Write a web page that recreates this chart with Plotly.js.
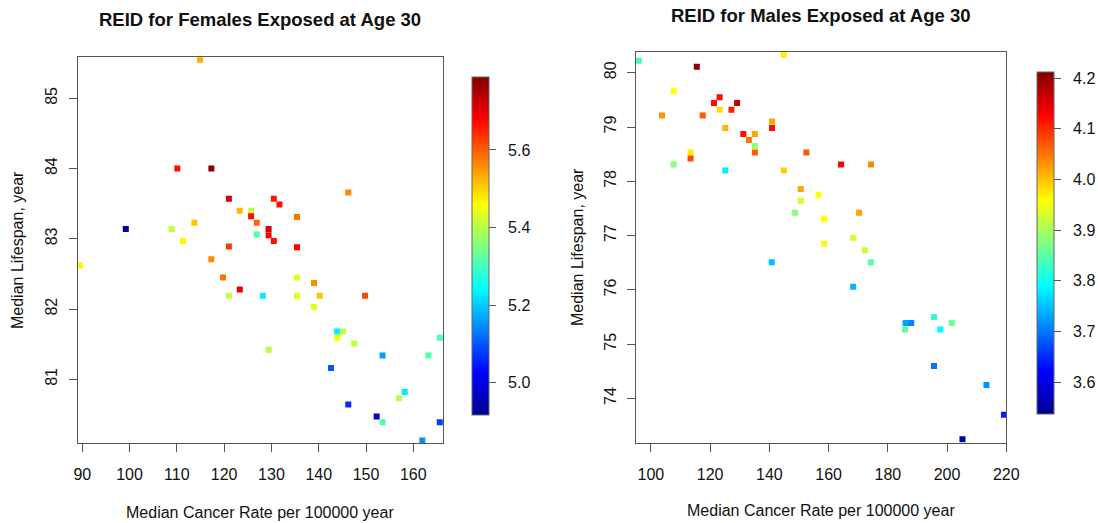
<!DOCTYPE html>
<html>
<head>
<meta charset="utf-8">
<script src="https://cdn.plot.ly/plotly-3.0.1.min.js"></script>
<style>html,body{margin:0;padding:0;background:#fff;}#chart{width:1098px;height:523px;}</style>
</head>
<body>
<div id="chart"></div>
<script>
// Females exposed at age 30
var femaleCancerRate = [114.9,110.1,117.3,121.0,130.5,131.7,123.3,125.7,125.7,126.9,113.7,99.2,108.9,126.9,129.4,129.4,130.5,111.3,121.0,89.5,117.3,119.75,123.3,121.0,128.2,129.4,146.25,135.4,135.4,135.4,139.0,135.4,140.2,149.8,139.0,143.9,145.1,143.9,147.5,165.6,153.5,163.2,142.6,158.2,157.0,146.25,152.25,153.5,165.6,161.9];
var femaleLifespan = [85.55,84.00,84.00,83.57,83.57,83.49,83.40,83.40,83.32,83.23,83.23,83.14,83.14,83.06,83.14,83.05,82.97,82.97,82.89,82.62,82.71,82.45,82.28,82.19,82.19,81.42,83.66,83.31,82.88,82.45,82.37,82.19,82.19,82.19,82.03,81.68,81.68,81.59,81.51,81.59,81.34,81.34,81.16,80.82,80.73,80.64,80.47,80.39,80.39,80.13];
var femaleREID = [5.53,5.67,5.78,5.71,5.66,5.67,5.52,5.41,5.67,5.59,5.51,4.93,5.41,5.31,5.71,5.68,5.67,5.47,5.63,5.47,5.56,5.58,5.70,5.41,5.23,5.40,5.56,5.58,5.68,5.43,5.56,5.44,5.51,5.62,5.44,5.23,5.40,5.45,5.41,5.31,5.16,5.31,5.10,5.23,5.40,5.06,4.99,5.31,5.08,5.15];

// Males exposed at age 30
var maleCancerRate = [95.9,115.5,144.9,107.7,123.2,121.3,129.1,123.2,127.2,103.75,117.5,125.1,140.9,140.9,131.2,135.1,133.1,135.1,135.1,113.4,113.4,152.5,107.7,164.2,174.3,125.1,144.9,150.6,156.6,150.6,148.7,170.3,158.5,158.5,168.3,172.2,174.3,140.8,168.3,186.0,187.9,195.6,201.6,185.8,197.7,195.6,213.3,219.2,205.2];
var maleLifespan = [80.22,80.11,80.33,79.66,79.55,79.44,79.44,79.32,79.32,79.21,79.21,78.98,79.10,78.98,78.87,78.87,78.76,78.65,78.53,78.53,78.42,78.53,78.31,78.31,78.31,78.20,78.20,77.86,77.75,77.64,77.42,77.42,77.30,76.85,76.96,76.73,76.51,76.51,76.06,75.39,75.39,75.50,75.39,75.27,75.27,74.60,74.25,73.70,73.25];
var maleREID = [3.83,4.21,3.97,3.96,4.12,4.12,4.17,3.98,4.11,4.03,4.07,4.01,4.02,4.12,4.12,4.02,4.05,3.89,4.07,3.97,4.08,4.07,3.88,4.13,4.04,3.78,3.99,4.02,3.96,3.93,3.88,4.02,3.96,3.95,3.93,3.92,3.85,3.75,3.74,3.73,3.71,3.82,3.86,3.85,3.79,3.70,3.72,3.64,3.55];

var femaleXTicks = [90,100,110,120,130,140,150,160];
var femaleYTicks = [81,82,83,84,85];
var femaleCTicks = [5.0,5.2,5.4,5.6];
var maleXTicks = [100,120,140,160,180,200,220];
var maleYTicks = [74,75,76,77,78,79,80];
var maleCTicks = [3.6,3.7,3.8,3.9,4.0,4.1,4.2];

var W = 1098, H = 523;
var FONT = 'Liberation Sans, Arial, sans-serif';
var jet = [[0,'#00008F'],[0.125,'#0000FF'],[0.375,'#00FFFF'],[0.625,'#FFFF00'],[0.875,'#FF0000'],[1,'#800000']];

function cbar(x0, top, bottom, thick, vals) {
  return {
    x: x0 / W, xanchor: 'left', xref: 'paper',
    y: 1 - (top + bottom) / 2 / H, yanchor: 'middle', yref: 'paper',
    len: (bottom - top) / H, lenmode: 'fraction',
    thickness: thick, thicknessmode: 'pixels',
    xpad: 0, ypad: 0,
    outlinewidth: 1, outlinecolor: '#666',
    ticks: 'outside', ticklen: 7, tickcolor: '#555', tickwidth: 1,
    tickvals: vals, ticktext: vals.map(function(v){return '\u00a0\u00a0' + v.toFixed(1);}),
    tickfont: {family: FONT, size: 16, color: '#111'}
  };
}

var traces = [
  {
    type: 'scatter', mode: 'markers', xaxis: 'x', yaxis: 'y',
    x: femaleCancerRate, y: femaleLifespan,
    marker: {symbol: 'square', size: 6, line: {width: 0},
      color: femaleREID, colorscale: jet, cmin: 4.917, cmax: 5.788,
      showscale: true, colorbar: cbar(472, 77, 415, 17, femaleCTicks)},
    showlegend: false, hoverinfo: 'none'
  },
  {
    type: 'scatter', mode: 'markers', xaxis: 'x2', yaxis: 'y2',
    x: maleCancerRate, y: maleLifespan,
    marker: {symbol: 'square', size: 6, line: {width: 0},
      color: maleREID, colorscale: jet, cmin: 3.538, cmax: 4.213,
      showscale: true, colorbar: cbar(1037, 71.7, 413.3, 17, maleCTicks)},
    showlegend: false, hoverinfo: 'none'
  }
];

function xax(domain, range, vals) {
  return {domain: domain, range: range, tickvals: vals, ticktext: vals.map(String),
    showgrid: false, zeroline: false, showline: true, mirror: true,
    linecolor: '#555', linewidth: 1, ticks: 'outside', ticklen: 8, tickcolor: '#555',
    tickfont: {family: FONT, size: 16, color: '#111'}, ticklabelstandoff: 9};
}
function yax(domain, range, vals, anchor) {
  return {domain: domain, range: range, tickvals: vals, ticktext: vals.map(String),
    showgrid: false, zeroline: false, showline: true, mirror: true, anchor: anchor,
    linecolor: '#555', linewidth: 1, ticks: 'outside', ticklen: 8, tickcolor: '#555',
    tickangle: -90, tickfont: {family: FONT, size: 16, color: '#111'}, ticklabelstandoff: 5};
}

var xa1 = xax([77.7 / W, 443 / W], [89.03, 166.28], femaleXTicks); xa1.anchor = 'y';
var xa2 = xax([636 / W, 1006.3 / W], [94.97, 220], maleXTicks); xa2.anchor = 'y2';

var layout = {
  width: W, height: H,
  margin: {l: 0, r: 0, t: 0, b: 0},
  paper_bgcolor: '#fff', plot_bgcolor: '#fff',
  showlegend: false,
  xaxis: xa1,
  yaxis: yax([1 - 443 / H, 1 - 57.3 / H], [80.093, 85.584], femaleYTicks, 'x'),
  xaxis2: xa2,
  yaxis2: yax([1 - 442.7 / H, 1 - 51.7 / H], [73.186, 80.387], maleYTicks, 'x2'),
  annotations: [
    {text: '<b>REID for Females Exposed at Age 30</b>', xref: 'paper', yref: 'paper',
     x: 260 / W, y: 1 - 20 / H, xanchor: 'center', yanchor: 'middle', showarrow: false,
     font: {family: FONT, size: 18.5, color: '#111'}},
    {text: '<b>REID for Males Exposed at Age 30</b>', xref: 'paper', yref: 'paper',
     x: 821 / W, y: 1 - 16 / H, xanchor: 'center', yanchor: 'middle', showarrow: false,
     font: {family: FONT, size: 18.5, color: '#111'}},
    {text: 'Median Cancer Rate per 100000 year', xref: 'paper', yref: 'paper',
     x: 260 / W, y: 1 - 512 / H, xanchor: 'center', yanchor: 'middle', showarrow: false,
     font: {family: FONT, size: 16, color: '#111'}},
    {text: 'Median Cancer Rate per 100000 year', xref: 'paper', yref: 'paper',
     x: 821 / W, y: 1 - 510 / H, xanchor: 'center', yanchor: 'middle', showarrow: false,
     font: {family: FONT, size: 16, color: '#111'}},
    {text: 'Median Lifespan, year', xref: 'paper', yref: 'paper', textangle: -90,
     x: 17 / W, y: 1 - 250 / H, xanchor: 'center', yanchor: 'middle', showarrow: false,
     font: {family: FONT, size: 16, color: '#111'}},
    {text: 'Median Lifespan, year', xref: 'paper', yref: 'paper', textangle: -90,
     x: 577 / W, y: 1 - 247 / H, xanchor: 'center', yanchor: 'middle', showarrow: false,
     font: {family: FONT, size: 16, color: '#111'}}
  ]
};

Plotly.newPlot('chart', traces, layout, {displayModeBar: false, staticPlot: true});
</script>
</body>
</html>
